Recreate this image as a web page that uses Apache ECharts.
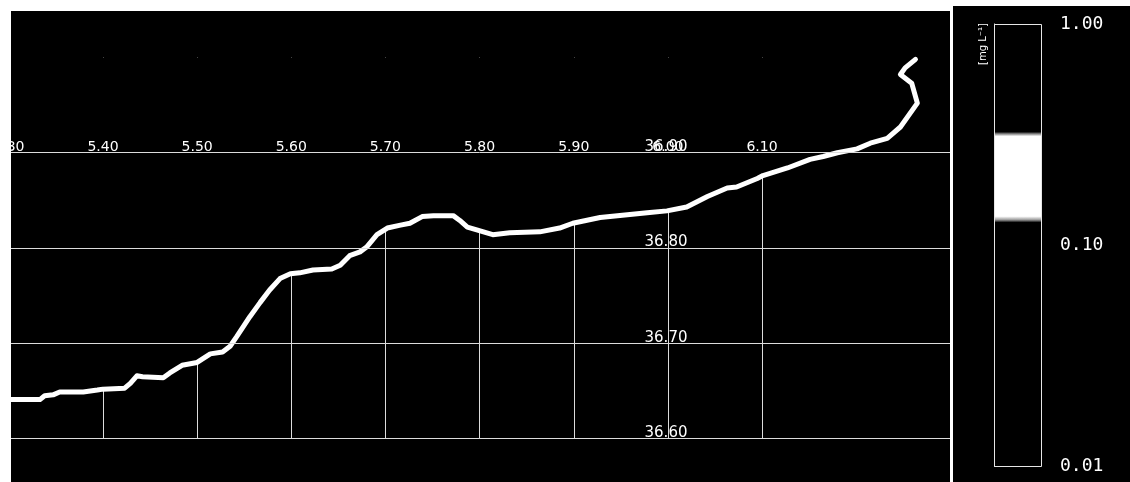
<!DOCTYPE html>
<html>
<head>
<meta charset="utf-8">
<script src="https://cdn.jsdelivr.net/npm/echarts@6/dist/echarts.min.js"></script>
<style>
  html, body { margin: 0; padding: 0; background: #fff; }
  #chart { width: 1130px; height: 482px; }
</style>
</head>
<body>
<div id="chart"></div>
<script>
// Profile trace: horizontal coordinate and vertical coordinate of each sample
const xValues = [5.300, 5.333, 5.338, 5.347, 5.354, 5.379, 5.394, 5.400, 5.423, 5.429,
  5.436, 5.442, 5.464, 5.471, 5.484, 5.500, 5.514, 5.527, 5.535, 5.542,
  5.556, 5.567, 5.577, 5.588, 5.599, 5.609, 5.623, 5.643, 5.652, 5.662,
  5.673, 5.680, 5.691, 5.702, 5.716, 5.726, 5.739, 5.751, 5.772, 5.779,
  5.787, 5.797, 5.814, 5.832, 5.864, 5.885, 5.899, 5.928, 5.957, 5.978,
  5.999, 6.020, 6.042, 6.063, 6.073, 6.095, 6.101, 6.127, 6.151, 6.165,
  6.180, 6.201, 6.215, 6.233, 6.247, 6.265, 6.259, 6.247, 6.252, 6.263];
const yValues = [36.641, 36.641, 36.645, 36.646, 36.649, 36.649, 36.651, 36.652, 36.653, 36.658,
  36.666, 36.665, 36.664, 36.669, 36.677, 36.680, 36.689, 36.691, 36.697, 36.707,
  36.728, 36.743, 36.756, 36.768, 36.773, 36.774, 36.777, 36.778, 36.782, 36.792,
  36.796, 36.801, 36.814, 36.821, 36.824, 36.826, 36.833, 36.834, 36.834, 36.829,
  36.822, 36.819, 36.814, 36.816, 36.817, 36.821, 36.826, 36.832, 36.835, 36.837,
  36.839, 36.843, 36.854, 36.863, 36.864, 36.873, 36.876, 36.884, 36.893, 36.896,
  36.900, 36.904, 36.910, 36.915, 36.927, 36.952, 36.973, 36.982, 36.989, 36.998];

// Tick labels that are printed on the plot
const xTickLabels = ['5.30', '5.40', '5.50', '5.60', '5.70', '5.80', '5.90', '6.00', '6.10'];
const yTickLabels = ['36.60', '36.70', '36.80', '36.90'];

// Colour scale (log) and the bright band on it
const colorbarRange = [0.01, 1.0];
const whiteBand = [0.127, 0.32];
const colorbarUnit = '[mg L⁻¹]';

const chart = echarts.init(document.getElementById('chart'), null, { renderer: 'canvas' });

const traceData = xValues.map((x, i) => [x, yValues[i]]);

// position of a value on the log colour bar, 0 at the top, 1 at the bottom
function barPos(v) {
  const lo = Math.log10(colorbarRange[0]), hi = Math.log10(colorbarRange[1]);
  return (hi - Math.log10(v)) / (hi - lo);
}
const pTop = barPos(whiteBand[1]);
const pBot = barPos(whiteBand[0]);
const barStops = [
  { offset: 0, color: '#000' },
  { offset: pTop - 0.004, color: '#000' },
  { offset: pTop, color: '#777' },
  { offset: pTop + 0.006, color: '#fff' },
  { offset: pBot - 0.014, color: '#fff' },
  { offset: pBot - 0.006, color: '#999' },
  { offset: pBot, color: '#000' },
  { offset: 1, color: '#000' }
];

const gridColor = '#dcdcdc';
const plotFont = 'DejaVu Sans';

const option = {
  backgroundColor: '#000',
  animation: false,
  grid: [
    // vertical grid lines (5.40 ... 6.10)
    { left: 8.86, right: 1130 - 856.3, top: 57.4, bottom: 43.3, outerBoundsMode: 'none', containLabel: false },
    // main plotting frame
    { left: 8.86, right: 1130 - 950.3, top: 57.4, bottom: 43.3, outerBoundsMode: 'none', containLabel: false },
    // colour bar
    { left: 994, right: 1130 - 1042, top: 24, bottom: 16, outerBoundsMode: 'none', containLabel: false }
  ],
  xAxis: [
    {
      gridIndex: 0, type: 'value', min: 5.3, max: 6.2, interval: 0.1, z: 0,
      axisLine: { show: false }, axisTick: { show: false }, axisLabel: { show: false },
      splitLine: { show: true, showMinLine: false, showMaxLine: false,
        lineStyle: { color: gridColor, width: 1 } }
    },
    {
      gridIndex: 1, type: 'value', min: 5.3, max: 6.3, interval: 0.1, z: 5,
      position: 'top', offset: -95.3,
      axisLine: { show: false }, axisTick: { show: false }, splitLine: { show: false },
      axisLabel: {
        color: '#fff', fontFamily: plotFont, fontSize: 14, margin: 1, lineHeight: 9,
        formatter: v => { const s = v.toFixed(2); return xTickLabels.includes(s) ? s : ''; }
      }
    },
    { gridIndex: 2, type: 'value', min: 0, max: 1, show: false }
  ],
  yAxis: [
    { gridIndex: 0, type: 'value', min: 36.6, max: 37.0, interval: 0.1, show: false },
    {
      gridIndex: 1, type: 'value', min: 36.6, max: 37.0, interval: 0.1, z: 5,
      position: 'left', offset: -(667 - 8.86),
      axisLine: { show: false }, axisTick: { show: false },
      splitLine: { show: true, showMaxLine: false, lineStyle: { color: gridColor, width: 1 } },
      axisLabel: {
        color: '#fff', fontFamily: plotFont, fontSize: 15, margin: 1, lineHeight: 11,
        align: 'center', verticalAlign: 'bottom',
        formatter: v => { const s = v.toFixed(2); return yTickLabels.includes(s) ? s : ''; }
      }
    },
    {
      gridIndex: 2, type: 'log', logBase: 10, min: colorbarRange[0], max: colorbarRange[1],
      position: 'right', offset: 6,
      axisLine: { show: true, lineStyle: { color: '#fff', width: 1 } },
      axisTick: { show: true, length: 4, lineStyle: { color: '#fff' } },
      minorTick: { show: false },
      splitLine: { show: false },
      axisLabel: {
        color: '#fff', fontFamily: 'DejaVu Sans Mono', fontSize: 18, margin: 12,
        formatter: v => Number(v).toFixed(2)
      }
    }
  ],
  series: [
    {
      type: 'line', xAxisIndex: 1, yAxisIndex: 1, z: 2,
      data: traceData,
      showSymbol: false, symbol: 'none', clip: false,
      lineStyle: { color: '#fff', width: 5, join: 'round', cap: 'round' },
      // black fill above the trace keeps the grid lines below it only
      areaStyle: { color: '#000', opacity: 1, origin: 'end' }
    },
    {
      type: 'custom', xAxisIndex: 2, yAxisIndex: 2,
      data: [[0, colorbarRange[0], colorbarRange[1]]],
      encode: { x: 0, y: [1, 2] },
      renderItem: (params, api) => {
        const tl = api.coord([0, api.value(2)]);
        const br = api.coord([1, api.value(1)]);
        return {
          type: 'rect',
          shape: { x: tl[0] + 0.5, y: tl[1] + 0.5, width: br[0] - tl[0] - 1, height: br[1] - tl[1] },
          style: {
            fill: { type: 'linear', x: 0, y: 0, x2: 0, y2: 1, colorStops: barStops },
            stroke: '#e6e6e6', lineWidth: 1
          }
        };
      }
    }
  ],
  graphic: [
    // white margins around the two black panels
    { type: 'rect', z: 100, shape: { x: 0, y: 0, width: 11, height: 482 }, style: { fill: '#fff' } },
    { type: 'rect', z: 100, shape: { x: 0, y: 0, width: 953, height: 11 }, style: { fill: '#fff' } },
    { type: 'rect', z: 100, shape: { x: 953, y: 0, width: 177, height: 6 }, style: { fill: '#fff' } },
    { type: 'rect', z: 100, shape: { x: 950, y: 0, width: 3, height: 482 }, style: { fill: '#fff' } },
    // unit of the colour bar
    {
      type: 'text', z: 100, x: 983, y: 44, rotation: Math.PI / 2,
      style: {
        text: colorbarUnit, fill: '#fff', font: '10px "DejaVu Sans"',
        textAlign: 'center', textVerticalAlign: 'middle'
      }
    }
  ]
};

chart.setOption(option);
</script>
</body>
</html>
